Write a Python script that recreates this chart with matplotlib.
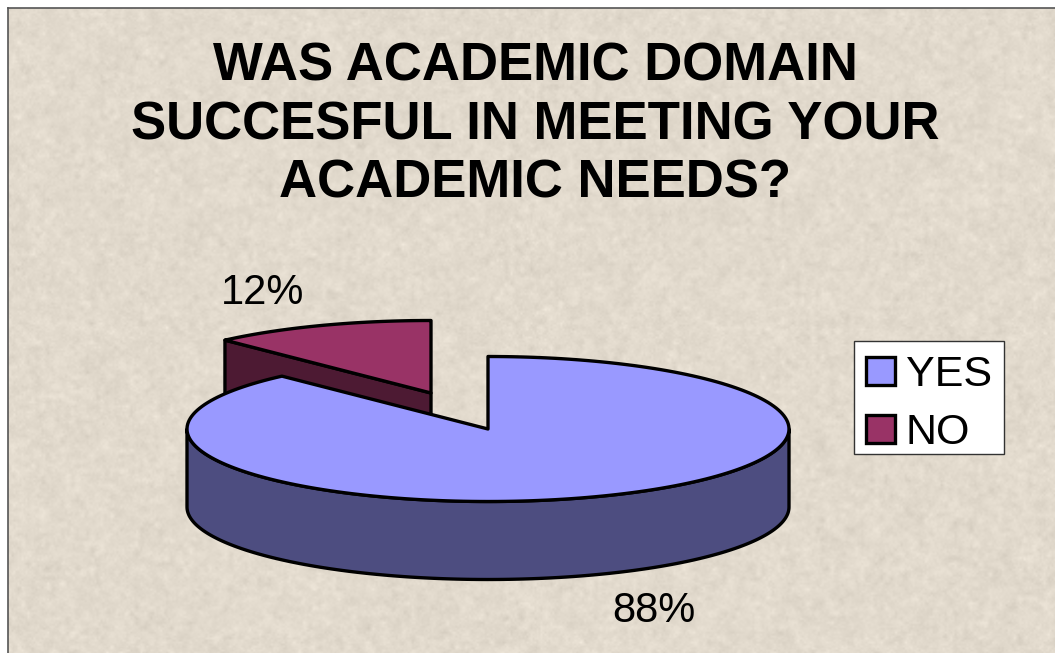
import numpy as np
import matplotlib
matplotlib.use('Agg')
import matplotlib.pyplot as plt
from matplotlib.patches import Polygon, Rectangle

plt.rcParams['font.family'] = ['Liberation Sans', 'DejaVu Sans']

labels = ['YES', 'NO']
values = [88, 12]
percent_labels = ['88%', '12%']
title = 'WAS ACADEMIC DOMAIN\nSUCCESFUL IN MEETING YOUR\nACADEMIC NEEDS?'

top_colors = ['#9999FF', '#993366']
side_colors = ['#4D4D80', '#4D1A33']

W, H = 1055, 653
rx, ry, depth = 301, 72.5, 78
center = (488, 429)
explode = (431, 393)


# angle is clockwise from 12 o'clock, in degrees
def rim(cx, cy, a0, a1, n=200):
    t = np.radians(np.linspace(a0, a1, n))
    return np.column_stack([cx + rx * np.sin(t), cy - ry * np.cos(t)])


def paper_texture(seed=3):
    # only the paper look of the background, no chart data in here
    rng = np.random.default_rng(seed)
    tex = np.zeros((H, W))
    for size, amp in [(2, 0.5), (5, 0.8), (14, 0.35)]:
        n = rng.normal(size=(H // size + 2, W // size + 2))
        yi = np.linspace(0, n.shape[0] - 1.01, H)
        xi = np.linspace(0, n.shape[1] - 1.01, W)
        y0, x0 = yi.astype(int), xi.astype(int)
        fy, fx = (yi - y0)[:, None], (xi - x0)[None, :]
        tex += amp * (n[y0][:, x0] * (1 - fy) * (1 - fx) + n[y0 + 1][:, x0] * fy * (1 - fx)
                      + n[y0][:, x0 + 1] * (1 - fy) * fx + n[y0 + 1][:, x0 + 1] * fy * fx)
    base = np.array([226, 218, 205]) / 255
    return np.clip(base[None, None, :] + 0.018 * tex[:, :, None], 0, 1)


fig = plt.figure(figsize=(W / 100, H / 100), dpi=100, facecolor='white')
ax = fig.add_axes([0, 0, 1, 1])
ax.axis('off')

ax.imshow(paper_texture(), extent=(8, W, H, 8), aspect='auto', zorder=0)
ax.set_xlim(0, W)
ax.set_ylim(H, 0)
ax.plot([8, 8], [H, 8], color='#555555', lw=1.2, zorder=1)
ax.plot([8, W], [8, 8], color='#555555', lw=1.2, zorder=1)

split = 360 * values[0] / sum(values)
edge = dict(edgecolor='black', linewidth=2.4, joinstyle='round')

# NO slice, pulled out of the pie: side wall first, then the top
ex, ey = explode
p_end = rim(ex, ey, split, split, 1)[0]
ax.add_patch(Polygon([(ex, ey), p_end, (p_end[0], p_end[1] + depth), (ex, ey + depth)],
                     facecolor=side_colors[1], zorder=2, **edge))
no_top = np.vstack([[(ex, ey)], rim(ex, ey, split, 360)])
ax.add_patch(Polygon(no_top, facecolor=top_colors[1], label=labels[1], zorder=3, **edge))

# YES slice: front wall from the left extreme round to the right extreme
cx, cy = center
front = rim(cx, cy, 270, 90)
wall = np.vstack([front, front[::-1] + [0, depth]])
ax.add_patch(Polygon(wall, facecolor=side_colors[0], zorder=4, **edge))
yes_top = np.vstack([[(cx, cy)], rim(cx, cy, 0, split)])
ax.add_patch(Polygon(yes_top, facecolor=top_colors[0], label=labels[0], zorder=5, **edge))

ax.text(654, 611, percent_labels[0], fontsize=30, ha='center', va='center', zorder=6)
ax.text(263, 293, percent_labels[1], fontsize=30, ha='center', va='center', zorder=6)

ax.text(535, 125, title, fontsize=38, fontweight='bold', ha='center', va='center',
        linespacing=1.22, zorder=6)

# legend box drawn apart, its own frame pads too much below the last row
ax.add_patch(Rectangle((854, 341), 150, 113, facecolor='white', edgecolor='#333333',
                       linewidth=1, zorder=6))
handles, leg_labels = ax.get_legend_handles_labels()
order = [leg_labels.index(n) for n in labels]
leg = ax.legend([handles[i] for i in order], [leg_labels[i] for i in order],
                loc='upper left', bbox_to_anchor=(854, 343), bbox_transform=ax.transData,
                fontsize=31, frameon=False, borderaxespad=0, borderpad=0.28,
                handlelength=0.67, handleheight=0.63, handletextpad=0.25, labelspacing=0.42)
leg.set_zorder(7)

fig.savefig('out.png', dpi=100)
